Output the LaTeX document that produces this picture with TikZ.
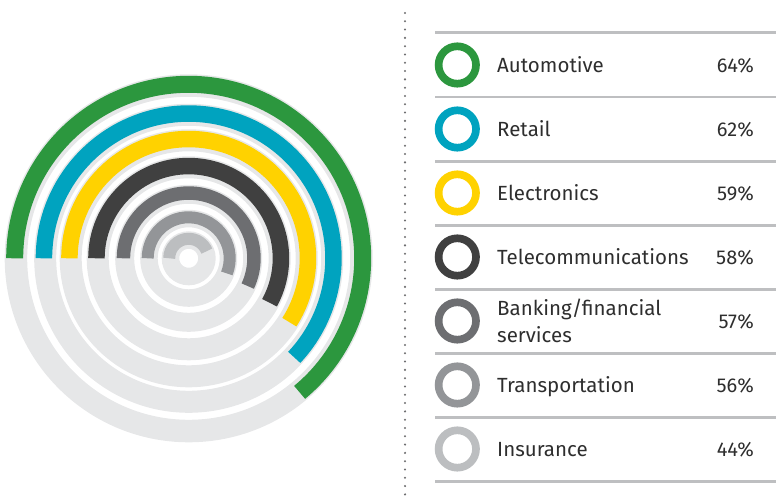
\documentclass[tikz,border=0pt]{standalone}
\usepackage{fontspec}
\setmainfont{Fira Sans}
\definecolor{cgreen}{RGB}{44,151,62}
\definecolor{cblue}{RGB}{0,163,191}
\definecolor{cyellow}{RGB}{255,210,0}
\definecolor{cdark}{RGB}{64,64,64}
\definecolor{cgray}{RGB}{109,110,113}
\definecolor{cmid}{RGB}{147,149,152}
\definecolor{clight}{RGB}{188,190,192}
\definecolor{cbg}{RGB}{230,231,232}
\definecolor{ctext}{RGB}{46,46,46}
\definecolor{cline}{RGB}{190,191,193}
\definecolor{cdot}{RGB}{110,110,112}
\tikzset{
  legring/.style={circle, draw=#1, line width=7.7pt, minimum size=37.4pt, inner sep=0pt, outer sep=0pt},
  lab/.style={anchor=base west, text=ctext, font=\fontsize{20.5}{24}\selectfont, inner sep=0pt},
  pct/.style={anchor=base east, text=ctext, font=\fontsize{20}{24}\selectfont, inner sep=0pt},
  sepline/.style={draw=cline, line width=2.3pt},
  dotline/.style={draw=cdot, line width=2.3pt, line cap=round, dash pattern=on 0pt off 8.3pt}
}
\begin{document}
\begin{tikzpicture}[x=1pt,y=1pt]
\useasboundingbox (0,0) rectangle (776,502);
\coordinate (C) at (188.7,243.7);
% grey background rings
\foreach \r/\w in {172.75/22.5, 143.5/22, 118/22, 91/22, 64/19, 39.75/17.5, 18.25/17.5}
  \draw[cbg, line width=\w pt] (C) circle[radius=\r pt];
% coloured arcs
\foreach \r/\w/\p/\c in {174/17/64/cgreen, 144.75/16.5/62/cblue, 119.25/16.5/59/cyellow, 92.25/16.5/58/cdark, 65.25/13.5/57/cgray, 41/12/56/cmid, 19.5/12/44/clight}
  \draw[\c, line width=\w pt] ([shift={(180:\r pt)}]C) arc[start angle=180, end angle={180-3.6*\p}, radius=\r pt];
% dotted divider
\coordinate (dtop) at (405,489);
\coordinate (dbot) at (405,0);
\draw[dotline] (dtop) -- (dbot);
% separator lines
\foreach \i/\y in {0/469.5, 1/405, 2/340.5, 3/276.5, 4/212.5, 5/148.5, 6/84.5, 7/20.5}{
  \coordinate (sl\i) at (435,\y);
  \coordinate (sr\i) at (776,\y);
  \draw[sepline] (sl\i) -- (sr\i);
}
% legend
\foreach \n/\y/\c/\t/\v in {a/437/cgreen/Automotive/64, b/373/cblue/Retail/62, c/309/cyellow/Electronics/59, d/245/cdark/Telecommunications/58, f/117/cmid/Transportation/56, g/53/clight/Insurance/44}{
  \node[legring=\c] (ring\n) at (457.3,\y) {};
  \node[lab] (lab\n) at (497,\y-7.5) {\t};
  \node[pct] (pct\n) at (754,\y-7.5) {\v\%};
}
\node[legring=cgray] (ringe) at (457.3,181) {};
\node[lab] (labe1) at (497,186) {Banking/financial};
\node[lab] (labe2) at (497,159.5) {services};
\node[pct] (pcte) at (754,173.5) {57\%};
\end{tikzpicture}
\end{document}
